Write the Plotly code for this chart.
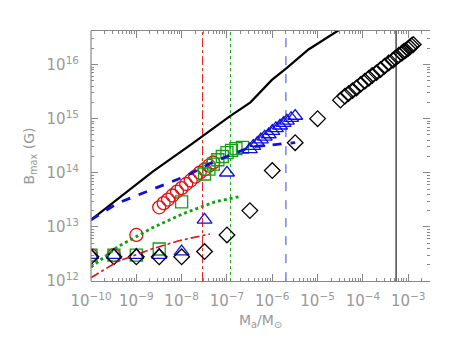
import plotly.graph_objects as go

# bottom-row masses (half decades)
m_half = [1e-10, 3.2e-10, 1e-9, 3.2e-9, 1e-8, 3.2e-8, 1e-7, 3.2e-7, 1e-6, 3.2e-6, 1e-5]

# red circles
circ_m = [1e-10, 3.2e-10, 1e-9,
          3.2e-9, 4.0e-9, 5.0e-9, 6.3e-9, 7.9e-9, 1.0e-8, 1.26e-8, 1.58e-8, 2.0e-8, 2.5e-8, 3.2e-8, 4.0e-8, 5.0e-8]
circ_b = [3.0e12, 3.0e12, 7.1e12,
          2.3e13, 2.75e13, 3.2e13, 3.8e13, 4.5e13, 5.2e13, 6.2e13, 7.2e13, 8.5e13, 1.0e14, 1.15e14, 1.35e14, 1.55e14]

# green squares
sq_m = [1e-10, 3.2e-10, 1e-9, 3.2e-9, 1e-8,
        3.2e-8, 4.0e-8, 5.0e-8, 6.3e-8, 7.9e-8, 1.0e-7, 1.26e-7, 1.58e-7, 2.2e-7]
sq_b = [3.0e12, 3.0e12, 3.0e12, 3.9e12, 2.9e13,
        9.5e13, 1.17e14, 1.45e14, 1.74e14, 2.0e14, 2.35e14, 2.6e14, 2.8e14, 2.95e14]

# blue triangles
tri_m = [1e-10, 3.2e-10, 1e-9, 3.2e-9, 1e-8, 3.2e-8, 1e-7,
         3.2e-7, 3.8e-7, 4.7e-7, 5.6e-7, 6.8e-7, 8.3e-7, 1.0e-6, 1.2e-6, 1.48e-6, 1.78e-6, 2.1e-6, 2.6e-6, 3.2e-6]
tri_b = [3.0e12, 3.0e12, 3.0e12, 3.0e12, 3.5e12, 1.35e13, 1.0e14,
         2.7e14, 3.1e14, 3.55e14, 4.1e14, 4.6e14, 5.1e14, 5.9e14, 6.6e14, 7.4e14, 8.3e14, 9.1e14, 1.02e15, 1.12e15]

# black diamonds
dia_m = m_half + [3.2e-5, 4.0e-5, 4.8e-5, 5.9e-5, 7.2e-5, 8.9e-5, 1.1e-4, 1.35e-4, 1.6e-4, 2.0e-4, 2.45e-4,
                  3.0e-4, 3.7e-4, 4.6e-4, 5.2e-4, 6.2e-4, 7.2e-4, 7.9e-4, 8.7e-4, 9.8e-4, 1.07e-3, 1.17e-3, 1.29e-3]
dia_b = [2.8e12, 2.8e12, 2.8e12, 2.8e12, 2.8e12, 3.5e12, 7.1e12, 2.0e13, 1.1e14, 3.6e14, 1.0e15,
         2.2e15, 2.6e15, 2.9e15, 3.3e15, 3.7e15, 4.3e15, 4.9e15, 5.6e15, 6.3e15, 7.1e15, 8.1e15,
         9.3e15, 1.07e16, 1.2e16, 1.32e16, 1.48e16, 1.62e16, 1.74e16, 1.82e16, 1.95e16, 2.09e16, 2.24e16, 2.34e16]

# curves
black_m = [1e-10, 2.3e-9, 1.6e-8, 1.15e-7, 3.3e-7, 9.8e-7, 2.1e-6, 6.3e-6, 2.9e-5, 1e-4]
black_b = [1.35e13, 1.05e14, 3.3e14, 1.1e15, 2.0e15, 5.2e15, 8.7e15, 1.9e16, 4.3e16, 1e17]
blue_m = [1e-10, 3.9e-10, 2.2e-9, 1.17e-8, 4.7e-8, 3.3e-7, 3.2e-6]
blue_b = [1.35e13, 2.75e13, 4.9e13, 8.5e13, 1.55e14, 3.0e14, 3.6e14]
green_m = [1e-10, 3.9e-10, 2.2e-9, 1.17e-8, 5.4e-8, 1.8e-7]
green_b = [1.8e12, 4.3e12, 9.5e12, 1.8e13, 2.9e13, 3.6e13]
red_m = [1e-10, 3.9e-10, 2.2e-9, 8.3e-9, 4.2e-8]
red_b = [1.15e12, 2.3e12, 3.9e12, 5.5e12, 7.4e12]

# vertical markers
vlines = [(2.9e-8, "#e01010", "dashdot", 1), (1.2e-7, "#10a010", "dot", 1),
          (2.0e-6, "#3344ee", "dash", 1), (5.4e-4, "#555555", "solid", 1.6)]

xticks = [1e-10, 1e-9, 1e-8, 1e-7, 1e-6, 1e-5, 1e-4, 1e-3]
xtext = ["10<sup>−10</sup>", "10<sup>−9</sup>", "10<sup>−8</sup>", "10<sup>−7</sup>",
         "10<sup>−6</sup>", "10<sup>−5</sup>", "10<sup>−4</sup>", "10<sup>−3</sup>"]
yticks = [1e12, 1e13, 1e14, 1e15, 1e16]
ytext = ["10<sup>12</sup>", "10<sup>13</sup>", "10<sup>14</sup>", "10<sup>15</sup>", "10<sup>16</sup>"]

xminor = [k * d for d in xticks for k in range(2, 10)]
yminor = [k * d for d in yticks for k in range(2, 10)]

RED, GREEN, BLUE = "#e01010", "#10a010", "#1010dd"
GREY = "#999999"
AXC = "#888888"

fig = go.Figure()
for xv, col, dash, w in vlines:
    fig.add_trace(go.Scatter(x=[xv, xv], y=[1e11, 1e18], mode="lines",
                             line=dict(color=col, dash=dash, width=w), hoverinfo="skip"))

def pts(x, y, sym, col, size):
    fig.add_trace(go.Scatter(x=x, y=y, mode="markers",
                             marker=dict(symbol=sym, size=size, color=col, line=dict(width=1.3))))

pts(circ_m, circ_b, "circle-open", RED, 13)
pts(sq_m, sq_b, "square-open", GREEN, 12)
pts(tri_m, tri_b, "triangle-up-open", BLUE, 13)
pts(dia_m, dia_b, "diamond-open", "black", 12)

fig.add_trace(go.Scatter(x=black_m, y=black_b, mode="lines", line=dict(color="black", width=2.2)))
fig.add_trace(go.Scatter(x=blue_m, y=blue_b, mode="lines", line=dict(color=BLUE, width=2.8, dash="dash")))
fig.add_trace(go.Scatter(x=green_m, y=green_b, mode="lines", line=dict(color=GREEN, width=2.8, dash="dot")))
fig.add_trace(go.Scatter(x=red_m, y=red_b, mode="lines", line=dict(color=RED, width=1.6, dash="dashdot")))

ax = dict(type="log", showgrid=False, zeroline=False, linecolor=AXC, linewidth=1.2,
          mirror="ticks", ticks="inside", ticklen=7, tickcolor=AXC, automargin=False,
          tickfont=dict(family="DejaVu Sans", size=15, color=GREY))

fig.update_xaxes(**ax, showline=True, range=[-10, -2.52], tickvals=xticks, ticktext=xtext, ticklabelstandoff=6,
                 minor=dict(ticks="inside", ticklen=3, tickcolor=AXC, tickvals=xminor),
                 title=dict(text="M<sub>a</sub>/M<sub>⊙</sub>", font=dict(family="DejaVu Sans", size=14, color=GREY),
                            standoff=6))
# no right frame line in the original: y line off, left edge drawn as a shape
fig.update_yaxes(**ax, showline=False, range=[12, 16.62], tickvals=yticks, ticktext=ytext, ticklabelstandoff=11,
                 minor=dict(ticks="inside", ticklen=3, tickcolor=AXC, tickvals=yminor),
                 title=dict(text="B<sub>max</sub> (G)", font=dict(family="DejaVu Sans", size=14, color=GREY),
                            standoff=8))
fig.add_shape(type="line", xref="paper", yref="paper", x0=0, x1=0, y0=0, y1=1,
              line=dict(color=AXC, width=1.2))
# page body adds 8px offset; margins compensate
fig.update_layout(width=458, height=344, margin=dict(l=83, r=36, t=23, b=71),
                  plot_bgcolor="white", paper_bgcolor="white", showlegend=False)
fig.write_html("out.html")
